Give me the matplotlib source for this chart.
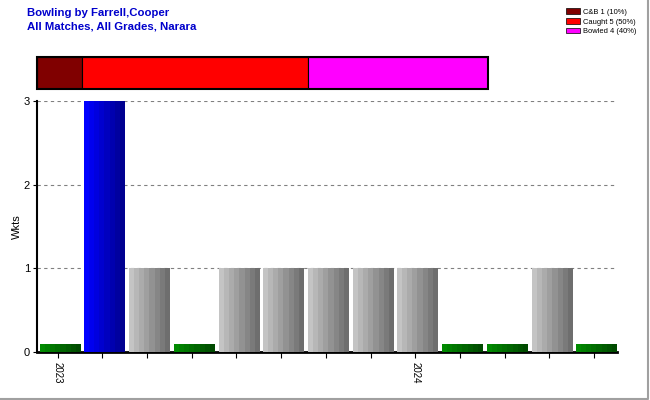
import numpy as np
import matplotlib
matplotlib.use("Agg")
import matplotlib.pyplot as plt
from matplotlib.colors import LinearSegmentedColormap
from matplotlib.lines import Line2D

plt.rcParams['font.family'] = ['Liberation Sans', 'DejaVu Sans']

# ---- data
wkts = [0, 3, 1, 0, 1, 1, 1, 1, 1, 0, 0, 1, 0]
tick_labels = ['2023', '', '', '', '', '', '', '', '2024', '', '', '', '']
zero_height = 0.1

dismissals = ['C&B', 'Caught', 'Bowled']
dis_counts = [1, 5, 4]
dis_colors = ['#800000', '#FF0000', '#FF00FF']

title = "Bowling by Farrell,Cooper\nAll Matches, All Grades, Narara"

# ---- colour ramps for the bars
cm_gray = LinearSegmentedColormap.from_list('g', ['#c4c4c4', '#6e6e6e'])
cm_green = LinearSegmentedColormap.from_list('gr', ['#008a00', '#004a00'])
cm_blue = LinearSegmentedColormap.from_list('b', ['#0000ff', '#000090'])

fig = plt.figure(figsize=(6.5, 4), dpi=100)

# ---- main bar chart
ax = fig.add_axes([37/650, 48/400, 580/650, 251/400])
x = np.arange(len(wkts))
heights = [w if w > 0 else zero_height for w in wkts]
bars = ax.bar(x + 0.05, heights, width=0.9, color='none', edgecolor='none', zorder=3)

top = max(wkts)
grad = np.linspace(0, 1, 8).reshape(1, -1)
for b, w in zip(bars, wkts):
    if w == 0:
        cmap = cm_green
    elif w == top:
        cmap = cm_blue
    else:
        cmap = cm_gray
    x0, y0 = b.get_x(), b.get_y()
    im = ax.imshow(grad, cmap=cmap, aspect='auto', interpolation='nearest',
                   extent=[x0, x0 + b.get_width(), y0, y0 + b.get_height()], zorder=3)
    im.set_clip_path(b)

ax.set_xlim(-0.46, 12.51)
ax.set_ylim(0, 3)
ax.set_yticks([0, 1, 2, 3])
ax.set_xticks(x)
ax.set_xticklabels(tick_labels, rotation=270, fontsize=7)
ax.tick_params(axis='y', labelsize=8, length=3, pad=2)
ax.tick_params(axis='x', length=4, pad=3)
ax.set_ylabel('Wkts', fontsize=8, labelpad=1)
ax.yaxis.grid(True, linestyle=(0, (3, 3)), color='#808080', linewidth=0.8)
ax.set_axisbelow(True)
for s in ['top', 'right']:
    ax.spines[s].set_visible(False)
ax.spines['left'].set_linewidth(1.5)
ax.spines['bottom'].set_linewidth(2)

# ---- dismissal strip
ax2 = fig.add_axes([37/650, (400-89)/400, 451/650, 32/400])
left = 0
for n, c in zip(dis_counts, dis_colors):
    ax2.barh(0, n, left=left, height=1, color=c, edgecolor='black', linewidth=0.8)
    left += n
ax2.set_xlim(0, sum(dis_counts))
ax2.set_ylim(-0.5, 0.5)
ax2.axis('off')
ax2.add_patch(plt.Rectangle((0, -0.5), sum(dis_counts), 1, fill=False,
                            edgecolor='black', linewidth=1.5, clip_on=False))

# ---- legend
tot = sum(dis_counts)
handles = [plt.Rectangle((0, 0), 1, 1, facecolor=c, edgecolor='black', linewidth=0.5)
           for c in dis_colors]
labels = ['%s %d (%d%%)' % (d, n, round(100*n/tot)) for d, n in zip(dismissals, dis_counts)]
fig.legend(handles, labels, loc='upper left', bbox_to_anchor=(560/650, 1.0 - 2/400),
           fontsize=5.4, frameon=False, handlelength=1.75, handleheight=0.7,
           handletextpad=0.5, labelspacing=0.35, borderpad=0.35)

fig.text(27/650, 1 - 8/400, title, color='#0000cc', fontsize=8.2, fontweight='bold',
         va='top', ha='left', linespacing=1.45)

# gray frame on right/bottom
fig.add_artist(Line2D([0, 648/650, 648/650], [1/400, 1/400, 1], color='#a0a0a0', linewidth=1.5))

plt.savefig('out.png', dpi=100)
